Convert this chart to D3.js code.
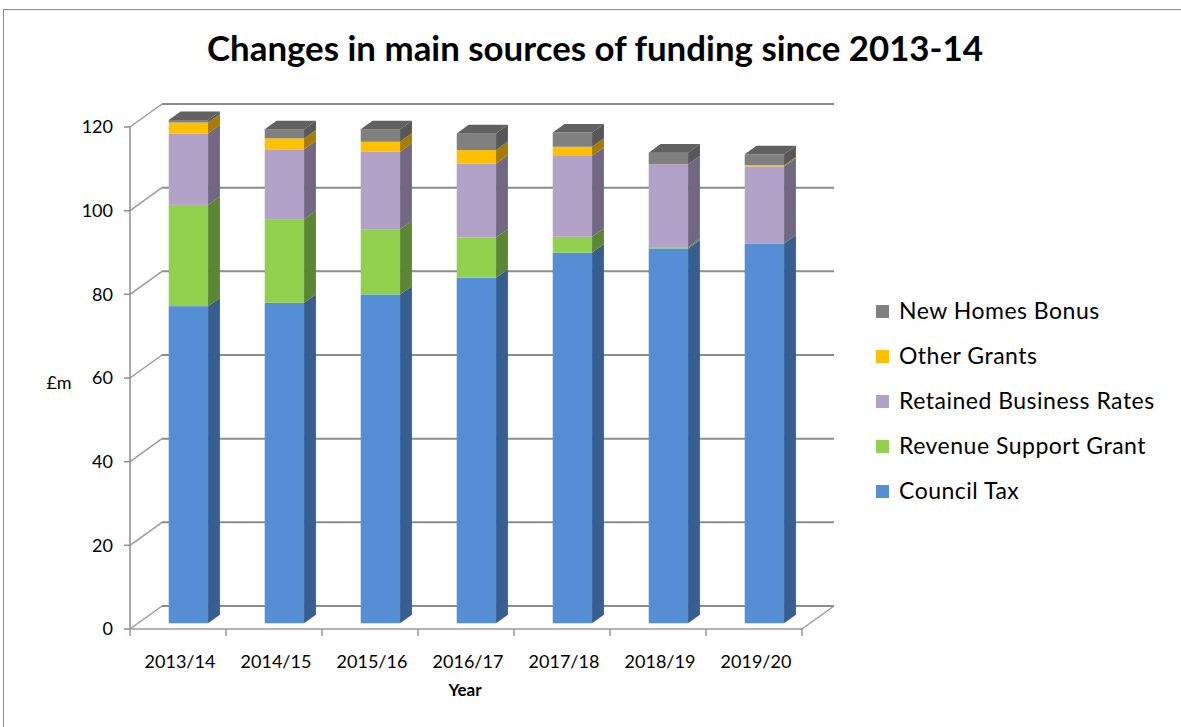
<!DOCTYPE html>
<html><head><meta charset="utf-8">
<script src="https://cdn.jsdelivr.net/npm/d3@7"></script>
<style>body{margin:0;background:#fff}svg{display:block}</style>
</head><body>
<svg id="c" width="1181" height="727"></svg>
<script>
const years = ["2013/14","2014/15","2015/16","2016/17","2017/18","2018/19","2019/20"];
const councilTax = [75.8, 76.6, 78.6, 82.6, 88.6, 89.6, 90.8];
const revenueSupportGrant = [24.2, 20.0, 15.6, 9.6, 3.8, 0.3, 0];
const retainedBusinessRates = [17.1, 16.7, 18.5, 17.7, 19.3, 19.8, 18.4];
const otherGrants = [2.6, 2.6, 2.4, 3.2, 2.2, 0, 0.3];
const newHomesBonus = [0.6, 2.2, 3.0, 4.0, 3.4, 2.8, 2.6];
const seriesNames = ["Council Tax","Revenue Support Grant","Retained Business Rates","Other Grants","New Homes Bonus"];
const yTicks = [0,20,40,60,80,100,120];
const titleText = "Changes in main sources of funding since 2013-14";

const seriesValues = [councilTax, revenueSupportGrant, retainedBusinessRates, otherGrants, newHomesBonus];
const colors = ["#558ed5","#92d050","#b3a2c7","#ffc000","#808080"];
const sideColors = ["#365e8f","#5d8633","#736883","#a67d00","#575757"];
const topColors = ["#4573ad","#77ad3f","#928399","#d9a300","#616161"];

const svg = d3.select("#c");
const font = "Lato, 'Open Sans', sans-serif";

// chart border
svg.append("rect").attr("x",3.5).attr("y",9.5).attr("width",1185).attr("height",730)
  .attr("fill","#fff").attr("stroke","#8a8a8a").attr("stroke-width",1);

const x = d3.scaleBand().domain(years).range([130, 802]).paddingInner(0).paddingOuter(0);
const y = d3.scaleLinear().domain([0,120]).range([629, 127]);
const DX = 32, DY = -23;
const off = d => [DX*d, DY*d];

const grid = svg.append("g");
yTicks.forEach(t => {
  const yb = y(t) + DY;
  grid.append("line").attr("x1",130+DX).attr("x2",802+DX).attr("y1",yb).attr("y2",yb)
    .attr("stroke","#8c8c8c").attr("stroke-width",2);
  grid.append("line").attr("x1",130).attr("y1",y(t)).attr("x2",130+DX).attr("y2",yb)
    .attr("stroke","#9a9a9a").attr("stroke-width",1.5);
});
grid.append("line").attr("x1",802).attr("y1",y(0)).attr("x2",802+DX).attr("y2",y(0)+DY)
  .attr("stroke","#9a9a9a").attr("stroke-width",1.5);
grid.append("line").attr("x1",130).attr("x2",130).attr("y1",y(0)).attr("y2",y(120))
  .attr("stroke","#8c8c8c").attr("stroke-width",1.5);
grid.append("line").attr("x1",130).attr("x2",802).attr("y1",y(0)).attr("y2",y(0))
  .attr("stroke","#9a9a9a").attr("stroke-width",1.5);

yTicks.forEach(t => {
  grid.append("line").attr("x1",124).attr("x2",130).attr("y1",y(t)).attr("y2",y(t))
    .attr("stroke","#8c8c8c").attr("stroke-width",1.5);
  svg.append("text").attr("x",113).attr("y",y(t)).attr("dy","0.35em").attr("text-anchor","end")
    .attr("font-family",font).attr("font-size",18).attr("fill","#000").text(t);
});
years.concat([null]).forEach((yr,i) => {
  const xx = i < years.length ? x(yr) : x(years[years.length-1]) + x.bandwidth();
  grid.append("line").attr("x1",xx).attr("x2",xx).attr("y1",y(0)).attr("y2",y(0)+7)
    .attr("stroke","#9a9a9a").attr("stroke-width",1.5);
});
years.forEach(yr => {
  svg.append("text").attr("x",x(yr)+x.bandwidth()/2+2).attr("y",668).attr("text-anchor","middle")
    .attr("font-family",font).attr("font-size",18).attr("fill","#000").text(yr);
});

const dFront = 0.25, dBack = 0.62;
const bw = x.bandwidth();
const bars = svg.append("g");
years.forEach((yr,i) => {
  const x0 = x(yr) + bw*0.32 + DX*dFront;
  const w = bw*0.41;
  const [fx, fy] = off(dFront);
  const [bx, by] = off(dBack);
  const sx = bx - fx, sy = by - fy;
  let cum = 0;
  let topIdx = -1;
  const segs = [];
  seriesValues.forEach((vals,s) => {
    const v = vals[i];
    if (v > 0) { segs.push({s, a:cum, b:cum+v}); topIdx = s; }
    cum += v;
  });
  segs.forEach(sg => {
    const yA = y(sg.a) + fy, yB = y(sg.b) + fy;
    bars.append("rect").attr("x",x0).attr("y",yB).attr("width",w).attr("height",yA-yB)
      .attr("fill",colors[sg.s]);
    const xr = x0 + w;
    bars.append("path").attr("d",`M${xr},${yA}L${xr+sx},${yA+sy}L${xr+sx},${yB+sy}L${xr},${yB}Z`)
      .attr("fill",sideColors[sg.s]);
  });
  const yTop = y(cum) + fy;
  bars.append("path").attr("d",`M${x0},${yTop}L${x0+sx},${yTop+sy}L${x0+w+sx},${yTop+sy}L${x0+w},${yTop}Z`)
    .attr("fill",topColors[topIdx]);
});

svg.append("text").attr("x",59).attr("y",383).attr("dy","0.35em").attr("text-anchor","middle")
  .attr("font-family",font).attr("font-size",18).text("£m");
svg.append("text").attr("x",465).attr("y",696).attr("text-anchor","middle")
  .attr("font-family",font).attr("font-size",17).attr("font-weight","bold").text("Year");

svg.append("text").attr("x",595).attr("y",61).attr("text-anchor","middle")
  .attr("font-family",font).attr("font-size",34).attr("font-weight","bold")
  .attr("textLength",776).attr("lengthAdjust","spacingAndGlyphs").text(titleText);

const legendOrder = [4,3,2,1,0];
legendOrder.forEach((s,k) => {
  const ly = 311 + k*45;
  svg.append("rect").attr("x",876).attr("y",ly-6).attr("width",13).attr("height",13).attr("fill",colors[s]);
  svg.append("text").attr("x",899).attr("y",ly).attr("dy","0.35em")
    .attr("font-family",font).attr("font-size",23).attr("letter-spacing",0.5).attr("fill","#000").text(seriesNames[s]);
});
</script>
</body></html>
